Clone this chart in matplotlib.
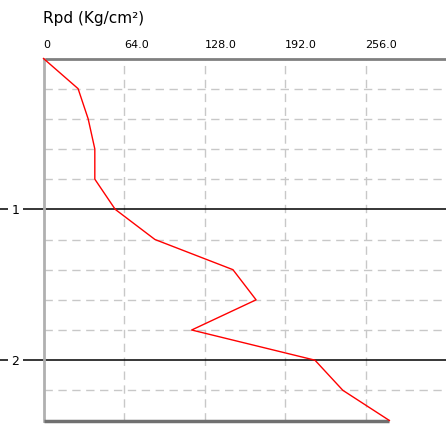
import matplotlib
matplotlib.use("Agg")
import matplotlib.pyplot as plt

depths = [0.0, 0.2, 0.4, 0.6, 0.8, 1.0, 1.2, 1.4, 1.6, 1.8, 2.0, 2.2, 2.4]
rpd = [0.0, 27.5, 35.5, 40.8, 40.8, 57.0, 88.6, 150.6, 169.0, 117.8, 215.8, 238.0, 275.0]
x_ticks = [0, 64, 128, 192, 256]
x_tick_labels = ["0", "64.0", "128.0", "192.0", "256.0"]
minor_depths = [0.2, 0.4, 0.6, 0.8, 1.2, 1.4, 1.6, 1.8, 2.2]
major_depths = [1.0, 2.0]
title = "Rpd (Kg/cm²)"

W, H = 446, 427
fig = plt.figure(figsize=(W / 100, H / 100), dpi=100)
left_px, top_px, bottom_px = 43.5, 59.5, 421.5
ax = fig.add_axes([left_px / W, 1 - bottom_px / H, 1 - left_px / W, (bottom_px - top_px) / H])
ax.set_xlim(0, 320)
ax.set_ylim(2.4, 0)
for s in ax.spines.values():
    s.set_visible(False)
ax.set_xticks([])
ax.set_yticks([])

grid_c = "#c8c8c8"
for x in x_ticks[1:]:
    ax.axvline(x, color=grid_c, lw=1.0, ls=(0, (6, 4)), zorder=1)
for d in minor_depths:
    ax.axhline(d, color=grid_c, lw=1.0, ls=(0, (6, 4)), zorder=1)

# axis lines
ax.axhline(0, color="#808080", lw=2.0, clip_on=False, zorder=3)
ax.axvline(0, color="#b0b0b0", lw=2.0, clip_on=False, zorder=3)
ax.plot([0, rpd[-1]], [depths[-1], depths[-1]], color="#707070", lw=2.5, clip_on=False, zorder=3, solid_capstyle="butt")

# major depth lines extending left with labels
for d in major_depths:
    ax.plot([-44 / 1.258, 320], [d, d], color="black", lw=1.1, clip_on=False, zorder=2)
    ax.text(-28 / 1.258, d, f"{int(d)}", ha="center", va="center", fontsize=9,
            color="black", bbox=dict(facecolor="white", edgecolor="none", pad=2.5), zorder=4,
            clip_on=False)

ax.plot(rpd, depths, color="red", lw=1.0, zorder=5, clip_on=False)

for x, lab in zip(x_ticks, x_tick_labels):
    ax.text(x, -0.06, lab, ha="left", va="bottom", fontsize=8, color="black")

fig.text(43 / W, 1 - 18 / H, title, ha="left", va="center", fontsize=11, color="black")

fig.savefig("out.png", dpi=100)
